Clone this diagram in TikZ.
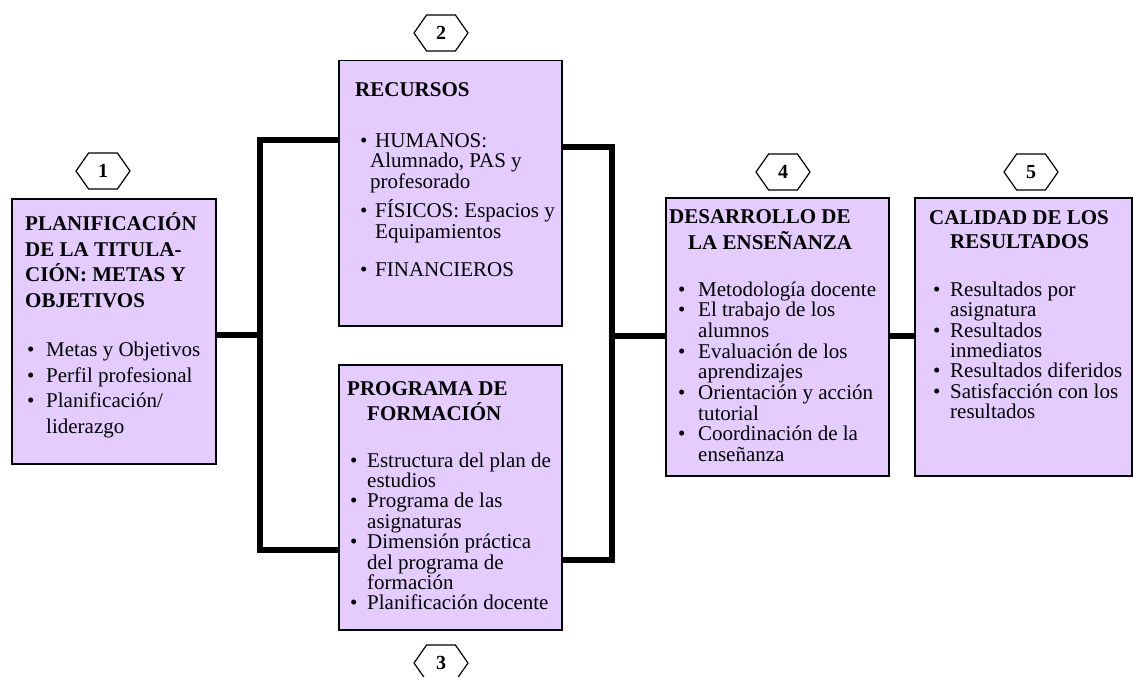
\documentclass[tikz,border=0pt]{standalone}
\usepackage{fontspec}
\setmainfont{Liberation Serif}
\usetikzlibrary{shapes.symbols}
\definecolor{lav}{RGB}{229,204,255}
\tikzset{
 box/.style={draw=black, line width=1.5pt, fill=lav, anchor=north west, inner sep=0pt},
 ttl/.style={anchor=base west, inner sep=0pt, align=left, font=\fontsize{21}{25}\selectfont\bfseries},
 lst/.style={anchor=base west, inner sep=0pt, align=left, font=\fontsize{21}{20.5}\selectfont},
 hexa/.style={shape=signal, signal to=east and west, signal pointer angle=110, draw=black, line width=1.2pt, fill=white, minimum width=54pt, minimum height=36pt, inner sep=0pt, font=\fontsize{20}{20}\selectfont\bfseries},
 conn/.style={line width=6pt, line join=miter}
}
\newcommand{\bu}[2]{\makebox[#1][l]{\textbullet}#2}
\begin{document}
\begin{tikzpicture}[x=1pt,y=-1pt]
\useasboundingbox (0,0) rectangle (1133,677);
% boxes
\node[box, minimum width=204pt, minimum height=265pt] (b1) at (11,198) {};
\node[box, minimum width=223pt, minimum height=265pt] (b2) at (338,60) {};
\node[box, minimum width=223pt, minimum height=265pt] (b3) at (338,364) {};
\node[box, minimum width=223pt, minimum height=278pt] (b4) at (665,197) {};
\node[box, minimum width=217pt, minimum height=278pt] (b5) at (914,197) {};
% connectors
\coordinate (LT) at (260,140); \coordinate (LB) at (260,550); \coordinate (LM) at (260,335);
\coordinate (RT) at (612,147); \coordinate (RB) at (612,560); \coordinate (RM) at (612,336);
\draw[conn] (b2.west |- LT) -- (LT) -- (LB) -- (b3.west |- LB);
\draw[conn] (b1.east |- LM) -- (LM);
\draw[conn] (b2.east |- RT) -- (RT) -- (RB) -- (b3.east |- RB);
\draw[conn] (RM) -- (b4.west |- RM);
\draw[conn] (b4.east |- RM) -- (b5.west |- RM);
% hexagon labels
\node[hexa] (h1) at (103,171) {1};
\node[hexa] (h2) at (441,33) {2};
\node[hexa] (h3) at (441,663) {3};
\node[hexa] (h4) at (783,172) {4};
\node[hexa] (h5) at (1031,172) {5};
% box 1 (anchors at the baseline of the last line)
\node[ttl, font=\fontsize{21}{25.5}\selectfont\bfseries] (t1) at (25,307) {PLANIFICACIÓN\\DE LA TITULA-\\CIÓN: METAS Y\\OBJETIVOS};
\node[lst, font=\fontsize{21}{25.5}\selectfont] (l1) at (27,433) {\bu{19pt}{Metas y Objetivos}\\\bu{19pt}{Perfil profesional}\\\bu{19pt}{Planificación/}\\\hspace*{19pt}liderazgo};
% box 2
\node[ttl] (t2) at (355,96) {RECURSOS};
\node[lst] (l2) at (360,276) {\bu{15pt}{HUMANOS:}\\\hspace*{10pt}Alumnado, PAS y\\\hspace*{10pt}profesorado\\[6pt]\bu{15pt}{FÍSICOS: Espacios y}\\\hspace*{15pt}Equipamientos\\[17.5pt]\bu{15pt}{FINANCIEROS}};
% box 3
\node[ttl] (t3) at (347,420) {PROGRAMA DE\\\hspace*{20pt}FORMACIÓN};
\node[lst, font=\fontsize{21}{20.4}\selectfont] (l3) at (350,609.8) {\bu{17pt}{Estructura del plan de}\\\hspace*{17pt}estudios\\\bu{17pt}{Programa de las}\\\hspace*{17pt}asignaturas\\\bu{17pt}{Dimensión práctica}\\\hspace*{17pt}del programa de\\\hspace*{17pt}formación\\\bu{17pt}{Planificación docente}};
% box 4
\node[ttl, font=\fontsize{21}{26}\selectfont\bfseries] (t4) at (669,249) {DESARROLLO DE\\\hspace*{19pt}LA ENSEÑANZA};
\node[lst, font=\fontsize{21}{20.7}\selectfont] (l4) at (678,461.6) {\bu{20pt}{Metodología docente}\\\bu{20pt}{El trabajo de los}\\\hspace*{20pt}alumnos\\\bu{20pt}{Evaluación de los}\\\hspace*{20pt}aprendizajes\\\bu{20pt}{Orientación y acción}\\\hspace*{20pt}tutorial\\\bu{20pt}{Coordinación de la}\\\hspace*{20pt}enseñanza};
% box 5
\node[ttl, font=\fontsize{21}{24.5}\selectfont\bfseries] (t5) at (929,248.5) {CALIDAD DE LOS\\\hspace*{21pt}RESULTADOS};
\node[lst, font=\fontsize{21}{20.3}\selectfont] (l5) at (933,418.3) {\bu{17pt}{Resultados por}\\\hspace*{17pt}asignatura\\\bu{17pt}{Resultados}\\\hspace*{17pt}inmediatos\\\bu{17pt}{Resultados diferidos}\\\bu{17pt}{Satisfacción con los}\\\hspace*{17pt}resultados};
\end{tikzpicture}
\end{document}
